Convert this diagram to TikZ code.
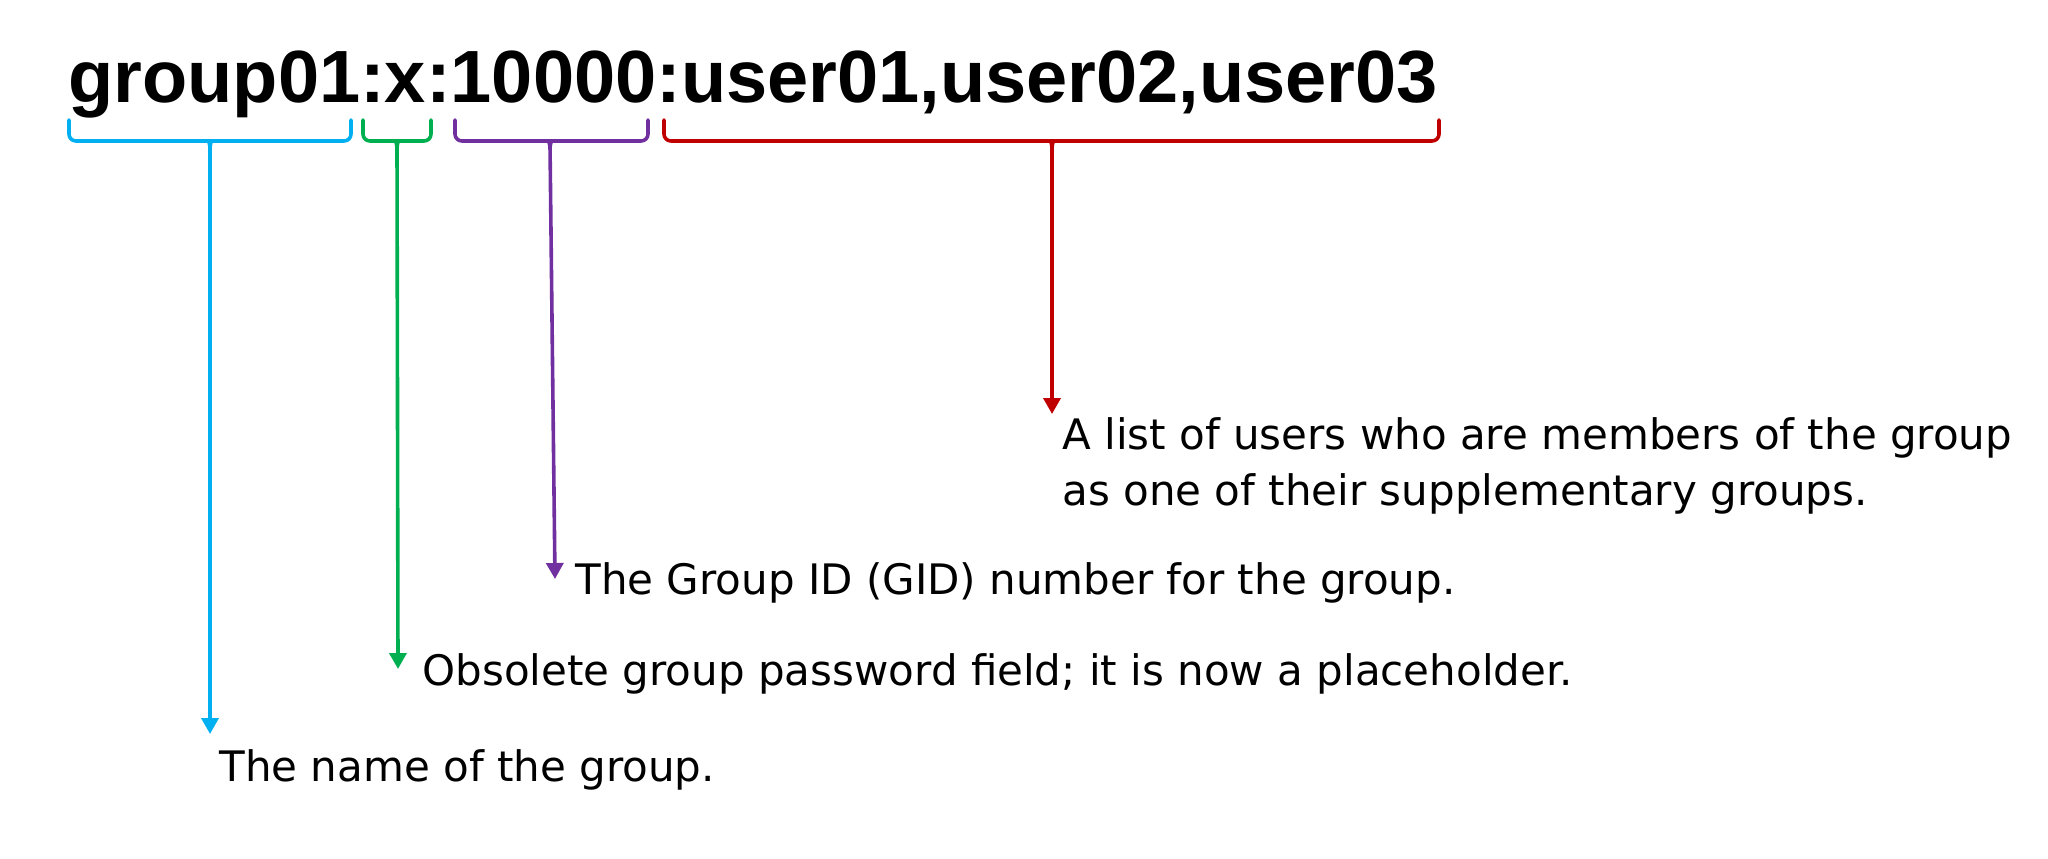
\documentclass[tikz,border=0pt]{standalone}
\usepackage{fontspec}
\setmainfont{DejaVu Sans}
\newfontfamily\titlefont{Liberation Sans}
\usetikzlibrary{arrows.meta}
\definecolor{ccyan}{HTML}{00B0F0}
\definecolor{cgreen}{HTML}{00B050}
\definecolor{cpurple}{HTML}{7030A0}
\definecolor{cred}{HTML}{C00000}
\tikzset{
  bracepath/.style={line width=1.8pt, rounded corners=3.5pt, line cap=round},
  pointer/.style={line width=1.8pt, -{Triangle[width=8.5pt,length=8pt]}},
  label/.style={anchor=base west, inner sep=0pt, font=\fontsize{21}{28}\selectfont, align=left},
}
\newcommand{\bracedraw}[4]{% color, xL, xM, xR
  \draw[bracepath,#1] (#2,120) -- (#2,141) -- (#3-8,141) .. controls (#3-2,141) and (#3,143) .. (#3,149);
  \draw[bracepath,#1] (#4,120) -- (#4,141) -- (#3+8,141) .. controls (#3+2,141) and (#3,143) .. (#3,149);
}
\begin{document}
\begin{tikzpicture}[x=0.5pt,y=-0.5pt]
\useasboundingbox (0,0) rectangle (2048,858);
\node[anchor=base west, inner sep=0pt, font=\titlefont\bfseries\fontsize{37}{40}\selectfont] (title) at (68,102) {group01:x:10000:user01,user02,user03};

\bracedraw{ccyan}{69}{210}{351}
\bracedraw{cgreen}{363}{397}{431}
\bracedraw{cpurple}{455}{550}{648}
\bracedraw{cred}{664}{1052}{1439}

\coordinate (bname) at (210,145);
\coordinate (bpass) at (397,145);
\coordinate (bgid) at (550,145);
\coordinate (busers) at (1052,145);

\node[label] (tname) at (219,781) {The name of the group.};
\node[label] (tpass) at (422,685) {Obsolete group password field; it is now a placeholder.};
\node[label] (tgid) at (575,594) {The Group ID (GID) number for the group.};
\node[label] (tusers) at (1062,505) {A list of users who are members of the group\\as one of their supplementary groups.};

\coordinate (aname) at (210,734);
\coordinate (apass) at (398,669);
\coordinate (agid) at (555,579);
\coordinate (ausers) at (1052,414);

\draw[pointer,ccyan] (bname) -- (aname);
\draw[pointer,cgreen] (bpass) -- (apass);
\draw[pointer,cpurple] (bgid) -- (agid);
\draw[pointer,cred] (busers) -- (ausers);
\end{tikzpicture}
\end{document}
